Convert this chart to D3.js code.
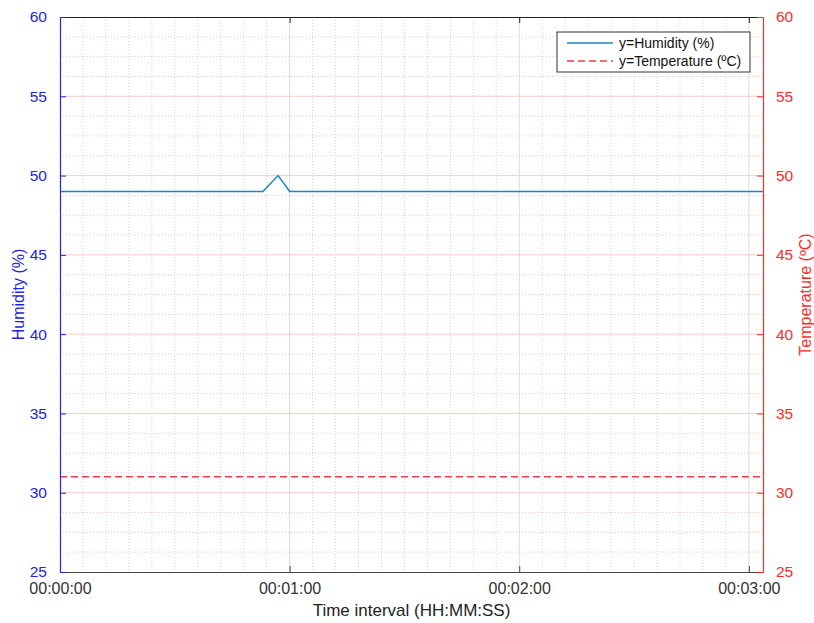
<!DOCTYPE html>
<html>
<head>
<meta charset="utf-8">
<script src="https://cdn.jsdelivr.net/npm/d3@7"></script>
<style>
  html, body { margin: 0; padding: 0; background: #fff; }
  svg { display: block; font-family: "Liberation Sans", Arial, Helvetica, sans-serif; }
</style>
</head>
<body>
<svg id="chart" width="814" height="623"></svg>
<script>
// Sensor readings (time in seconds from start)
const humidityTime = [0, 53, 57, 60, 183.7];
const humidityValues = [49, 49, 50, 49, 49];
const temperatureTime = [0, 183.7];
const temperatureValues = [31, 31];

const xTickSeconds = [0, 60, 120, 180];
const yTicks = [25, 30, 35, 40, 45, 50, 55, 60];
const legendLabels = ["y=Humidity (%)", "y=Temperature (ºC)"];

const W = 814, H = 623;
const margin = { left: 60, right: 51, top: 17, bottom: 51 };
const plotW = W - margin.left - margin.right;
const plotH = H - margin.top - margin.bottom;

const blue = "#2323e0", red = "#ff2a2a", dark = "#333333";
const humidityColor = "#1985bf", tempColor = "#f23a48";

const svg = d3.select("#chart");
const g = svg.append("g").attr("transform", `translate(${margin.left},${margin.top})`);

const x = d3.scaleLinear().domain([0, 183.7]).range([0, plotW]);
const yL = d3.scaleLinear().domain([25, 60]).range([plotH, 0]);
const yR = d3.scaleLinear().domain([25, 60]).range([plotH, 0]);

const fmtTime = s => {
  const hh = Math.floor(s / 3600), mm = Math.floor((s % 3600) / 60), ss = Math.round(s % 60);
  return [hh, mm, ss].map(v => String(v).padStart(2, "0")).join(":");
};

// Minor grid
const xMinor = d3.range(0, 183.7, 6).filter(t => t % 60 !== 0);
const yMinor = d3.range(25, 60, 1.25).filter(v => v % 5 !== 0);

g.append("g").selectAll("line").data(xMinor).join("line")
  .attr("x1", d => x(d)).attr("x2", d => x(d)).attr("y1", 0).attr("y2", plotH)
  .attr("stroke", "#d4d4d4").attr("stroke-width", 1).attr("stroke-dasharray", "1,2");
g.append("g").selectAll("line").data(yMinor).join("line")
  .attr("y1", d => yR(d)).attr("y2", d => yR(d)).attr("x1", 0).attr("x2", plotW)
  .attr("stroke", "#f3c4c4").attr("stroke-width", 1).attr("stroke-dasharray", "1,2");

// Major grid
g.append("g").selectAll("line").data(xTickSeconds.filter(t => t > 0)).join("line")
  .attr("x1", d => x(d)).attr("x2", d => x(d)).attr("y1", 0).attr("y2", plotH)
  .attr("stroke", "#dcdcdc").attr("stroke-width", 1);
g.append("g").selectAll("line").data(yTicks.filter(v => v > 25 && v < 60)).join("line")
  .attr("y1", d => yR(d)).attr("y2", d => yR(d)).attr("x1", 0).attr("x2", plotW)
  .attr("stroke", "#f7cccc").attr("stroke-width", 1);

// Data lines
const humLine = d3.line().x((d, i) => x(humidityTime[i])).y(d => yL(d));
g.append("path").datum(humidityValues).attr("d", humLine)
  .attr("fill", "none").attr("stroke", humidityColor).attr("stroke-width", 1.5);

const tempLine = d3.line().x((d, i) => x(temperatureTime[i])).y(d => yR(d));
g.append("path").datum(temperatureValues).attr("d", tempLine)
  .attr("fill", "none").attr("stroke", tempColor).attr("stroke-width", 1.5)
  .attr("stroke-dasharray", "7,4");

// Axes
const tickLen = 6;
const styleAxis = (sel, color) => {
  sel.selectAll("path.domain").attr("stroke", color).attr("stroke-width", 1.2);
  sel.selectAll(".tick line").attr("stroke", color);
  sel.selectAll(".tick text").attr("fill", color);
};

const xAxis = g.append("g").attr("transform", `translate(0,${plotH})`)
  .call(d3.axisBottom(x).tickValues(xTickSeconds).tickFormat(fmtTime)
    .tickSizeInner(-tickLen).tickSizeOuter(0).tickPadding(11))
  .attr("font-size", 16).attr("font-family", null);
styleAxis(xAxis, "#444");
xAxis.selectAll(".tick text").attr("fill", dark);

const xTop = g.append("g")
  .call(d3.axisTop(x).tickValues(xTickSeconds).tickFormat("")
    .tickSizeInner(-tickLen).tickSizeOuter(0));
styleAxis(xTop, "#222");

const yLeft = g.append("g")
  .call(d3.axisLeft(yL).tickValues(yTicks).tickSizeInner(-tickLen).tickSizeOuter(0).tickPadding(13))
  .attr("font-size", 15.5).attr("font-family", null);
styleAxis(yLeft, blue);

const yRight = g.append("g").attr("transform", `translate(${plotW},0)`)
  .call(d3.axisRight(yR).tickValues(yTicks).tickSizeInner(-tickLen).tickSizeOuter(0).tickPadding(13))
  .attr("font-size", 15.5).attr("font-family", null);
styleAxis(yRight, red);

// Axis titles
svg.append("text").attr("x", margin.left + plotW / 2).attr("y", 616)
  .attr("text-anchor", "middle").attr("font-size", 17).attr("fill", "#222")
  .text("Time interval (HH:MM:SS)");
svg.append("text").attr("transform", `translate(24,${margin.top + plotH / 2}) rotate(-90)`)
  .attr("text-anchor", "middle").attr("font-size", 16).attr("fill", blue)
  .text("Humidity (%)");
svg.append("text").attr("transform", `translate(811,${margin.top + plotH / 2}) rotate(-90)`)
  .attr("text-anchor", "middle").attr("font-size", 16).attr("fill", red)
  .text("Temperature (ºC)");

// Legend
const leg = svg.append("g").attr("transform", "translate(557,32)");
leg.append("rect").attr("width", 193).attr("height", 40)
  .attr("fill", "#fff").attr("stroke", "#333").attr("stroke-width", 1);
const legItems = [
  { label: legendLabels[0], color: humidityColor, dash: null },
  { label: legendLabels[1], color: tempColor, dash: "7,4" }
];
legItems.forEach((it, i) => {
  const yy = 11 + i * 18;
  leg.append("line").attr("x1", 10).attr("x2", 56).attr("y1", yy).attr("y2", yy)
    .attr("stroke", it.color).attr("stroke-width", 1.5)
    .attr("stroke-dasharray", it.dash);
  leg.append("text").attr("x", 62).attr("y", yy + 5).attr("font-size", 14)
    .attr("fill", "#111").text(it.label);
});
</script>
</body>
</html>
